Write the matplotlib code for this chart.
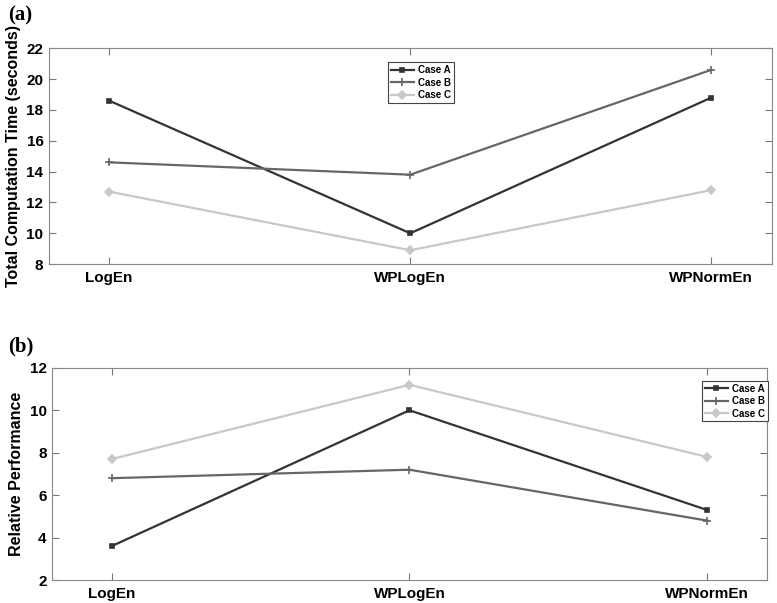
import matplotlib.pyplot as plt
import numpy as np

methods = ["LogEn", "WPLogEn", "WPNormEn"]
cases = ["Case A", "Case B", "Case C"]

time_a = [18.6, 10.0, 18.8]
time_b = [14.6, 13.8, 20.6]
time_c = [12.7, 8.9, 12.8]

perf_a = [3.6, 10.0, 5.3]
perf_b = [6.8, 7.2, 4.8]
perf_c = [7.7, 11.2, 7.8]

colors = ["#333333", "#666666", "#c8c8c8"]
markers = ["s", "+", "D"]
msizes = [3.5, 6, 4.5]

plt.rcParams["font.family"] = ["Liberation Sans", "DejaVu Sans"]
plt.rcParams["font.weight"] = "bold"

fig = plt.figure(figsize=(7.77, 6.03), dpi=100)
ax1 = fig.add_axes([0.063, 0.562, 0.930, 0.358])
ax2 = fig.add_axes([0.067, 0.038, 0.920, 0.352])

x = np.arange(1, len(methods) + 1)


def draw(ax, series, ylim, ylabel, leg_anchor):
    for vals, name, c, m, ms in zip(series, cases, colors, markers, msizes):
        ax.plot(x, vals, color=c, marker=m, markersize=ms, linewidth=1.6,
                markeredgewidth=1.2, label=name)
    ax.set_xlim(0.8, 3.2)
    ax.set_ylim(*ylim)
    ax.set_yticks(np.arange(ylim[0], ylim[1] + 1, 2))
    ax.set_xticks(x)
    ax.set_xticklabels(methods)
    ax.set_ylabel(ylabel, fontsize=11.5, fontweight="bold")
    ax.tick_params(direction="in", top=True, right=True, length=5,
                   color="#777777", labelsize=11)
    ax.tick_params(axis="x", pad=5)
    ax.tick_params(axis="y", pad=4)
    for s in ax.spines.values():
        s.set_color("#888888")
        s.set_linewidth(0.8)
    for lbl in ax.get_xticklabels() + ax.get_yticklabels():
        lbl.set_fontweight("bold")
    leg = ax.legend(loc="upper left", bbox_to_anchor=leg_anchor,
                    prop={"weight": "bold", "size": 7}, handlelength=2.4,
                    handletextpad=0.4, labelspacing=0.25, borderpad=0.3,
                    fancybox=False, framealpha=1)
    leg.get_frame().set_edgecolor("#444444")
    leg.get_frame().set_linewidth(0.8)


draw(ax1, [time_a, time_b, time_c], (8, 22), "Total Computation Time (seconds)",
     (0.462, 0.958))
draw(ax2, [perf_a, perf_b, perf_c], (2, 12), "Relative Performance",
     (0.902, 0.962))

fig.text(0.01, 0.975, "(a)", family="Liberation Serif", fontsize=15,
         fontweight="bold", va="center")
fig.text(0.01, 0.425, "(b)", family="Liberation Serif", fontsize=15,
         fontweight="bold", va="center")

fig.savefig("out.png", dpi=100)
